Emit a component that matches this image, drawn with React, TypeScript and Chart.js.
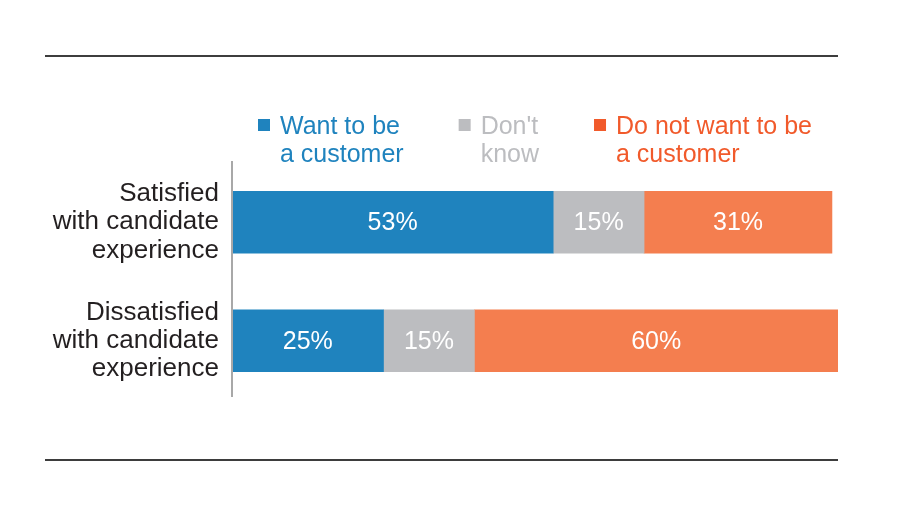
import React, { useEffect, useRef } from "react";
import { Chart, registerables } from "chart.js";

Chart.register(...registerables);

const categories: string[][] = [
  ["Satisfied", "with candidate", "experience"],
  ["Dissatisfied", "with candidate", "experience"],
];
const seriesNames: string[] = ["Want to be\na customer", "Don't\nknow", "Do not want to be\na customer"];
const wantValues: number[] = [53, 25];
const dontKnowValues: number[] = [15, 15];
const notWantValues: number[] = [31, 60];

const barColors = ["#1F83BE", "#BCBDC0", "#F47E4F"];
const legendTextColors = ["#1F83BE", "#BCBDC0", "#F15A2B"];
const legendSquareColors = ["#1F83BE", "#BCBDC0", "#F15A2B"];
const FONT = '"Liberation Sans", Arial, Helvetica, sans-serif';

const decorPlugin = {
  id: "decor",
  afterDraw(chart: any) {
    const ctx = chart.ctx as CanvasRenderingContext2D;
    const area = chart.chartArea;
    ctx.save();
    // horizontal rules
    ctx.strokeStyle = "#3D3D3D";
    ctx.lineWidth = 2;
    ctx.beginPath();
    ctx.moveTo(45, 56);
    ctx.lineTo(838, 56);
    ctx.moveTo(45, 460);
    ctx.lineTo(838, 460);
    ctx.stroke();
    // y axis line
    ctx.strokeStyle = "#A8A8A8";
    ctx.lineWidth = 2;
    ctx.beginPath();
    ctx.moveTo(area.left, 161);
    ctx.lineTo(area.left, 397);
    ctx.stroke();

    // value labels
    ctx.fillStyle = "#FFFFFF";
    ctx.font = `25px ${FONT}`;
    ctx.textAlign = "center";
    ctx.textBaseline = "middle";
    chart.data.datasets.forEach((ds: any, di: number) => {
      const meta = chart.getDatasetMeta(di);
      meta.data.forEach((el: any, i: number) => {
        const v = ds.data[i];
        ctx.fillText(`${v}%`, (el.x + el.base) / 2, el.y + 1);
      });
    });

    // legend
    ctx.font = `25px ${FONT}`;
    ctx.textAlign = "left";
    ctx.textBaseline = "middle";
    let x = 258;
    chart.data.datasets.forEach((ds: any, di: number) => {
      const lines = String(ds.label).split("\n");
      ctx.fillStyle = legendSquareColors[di];
      ctx.fillRect(x, 119, 12, 12);
      ctx.fillStyle = legendTextColors[di];
      let maxW = 0;
      lines.forEach((ln: string, li: number) => {
        ctx.fillText(ln, x + 22, 127 + li * 28);
        maxW = Math.max(maxW, ctx.measureText(ln).width);
      });
      x += 22 + maxW + 55;
    });
    ctx.restore();
  },
};

export default function App() {
  const ref = useRef<HTMLCanvasElement | null>(null);
  useEffect(() => {
    if (!ref.current) return;
    const chart = new Chart(ref.current, {
      type: "bar",
      data: {
        labels: categories,
        datasets: [
          { label: seriesNames[0], data: wantValues, backgroundColor: barColors[0] },
          { label: seriesNames[1], data: dontKnowValues, backgroundColor: barColors[1] },
          { label: seriesNames[2], data: notWantValues, backgroundColor: barColors[2] },
        ],
      },
      options: {
        indexAxis: "y",
        responsive: false,
        animation: false,
        devicePixelRatio: 1,
        layout: { padding: { left: 0, top: 163, right: 62, bottom: 118 } },
        datasets: { bar: { barThickness: 62, borderWidth: 0 } },
        plugins: { legend: { display: false }, tooltip: { enabled: false } },
        scales: {
          x: { display: false, stacked: true, min: 0, max: 100 },
          y: {
            stacked: true,
            grid: { display: false },
            border: { display: false },
            ticks: {
              color: "#231F20",
              padding: 5,
              font: { family: FONT, size: 26, lineHeight: 1.08 },
            },
            afterFit: (s: any) => {
              s.width = 232;
            },
          },
        },
      } as any,
      plugins: [decorPlugin],
    });
    return () => chart.destroy();
  }, []);
  return (
    <div style={{ position: "absolute", left: 0, top: 0, width: 900, height: 518, background: "#fff" }}>
      <canvas ref={ref} width={900} height={518} style={{ display: "block" }} />
    </div>
  );
}
